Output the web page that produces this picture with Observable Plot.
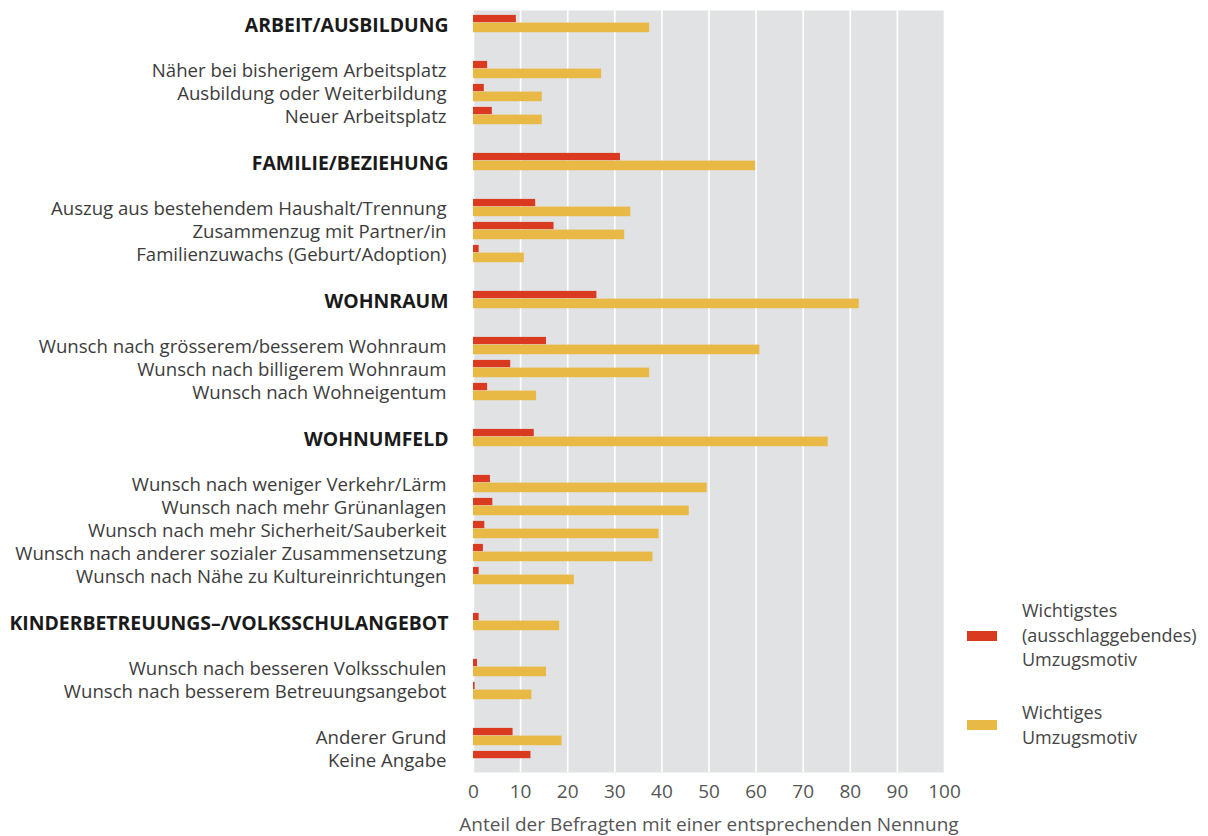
<!DOCTYPE html>
<html>
<head>
<meta charset="utf-8">
<script src="https://cdn.jsdelivr.net/npm/d3@7"></script>
<script src="https://cdn.jsdelivr.net/npm/@observablehq/plot@0.6"></script>
<style>
  body { margin: 0; background: #fff; font-family: "Open Sans", sans-serif; }
  #wrap { position: relative; width: 1208px; height: 836px; }
  .legend { position: absolute; left: 0; top: 0; font-size: 18px; color: #444; line-height: 24.5px; }
  .sw { position: absolute; width: 30px; height: 10px; }
  .lt { position: absolute; left: 1022px; white-space: nowrap; }
</style>
</head>
<body>
<div id="wrap"></div>
<script>
const labels = [
  "ARBEIT/AUSBILDUNG", "",
  "Näher bei bisherigem Arbeitsplatz", "Ausbildung oder Weiterbildung", "Neuer Arbeitsplatz", "",
  "FAMILIE/BEZIEHUNG", "",
  "Auszug aus bestehendem Haushalt/Trennung", "Zusammenzug mit Partner/in", "Familienzuwachs (Geburt/Adoption)", "",
  "WOHNRAUM", "",
  "Wunsch nach grösserem/besserem Wohnraum", "Wunsch nach billigerem Wohnraum", "Wunsch nach Wohneigentum", "",
  "WOHNUMFELD", "",
  "Wunsch nach weniger Verkehr/Lärm", "Wunsch nach mehr Grünanlagen", "Wunsch nach mehr Sicherheit/Sauberkeit",
  "Wunsch nach anderer sozialer Zusammensetzung", "Wunsch nach Nähe zu Kultureinrichtungen", "",
  "KINDERBETREUUNGS–/VOLKSSCHULANGEBOT", "",
  "Wunsch nach besseren Volksschulen", "Wunsch nach besserem Betreuungsangebot", "",
  "Anderer Grund", "Keine Angabe"
];
const isCategory = [
  1,0, 0,0,0,0, 1,0, 0,0,0,0, 1,0, 0,0,0,0, 1,0, 0,0,0,0,0,0, 1,0, 0,0,0, 0,0
];
// Wichtigstes (ausschlaggebendes) Umzugsmotiv
const wichtigstes = [
  9.1, null, 3.0, 2.3, 4.0, null, 31.2, null, 13.2, 17.1, 1.2, null,
  26.2, null, 15.5, 7.9, 3.0, null, 12.9, null, 3.6, 4.1, 2.4, 2.1, 1.2, null,
  1.2, null, 0.85, 0.35, null, 8.4, 12.2
];
// Wichtiges Umzugsmotiv
const wichtiges = [
  37.4, null, 27.2, 14.6, 14.6, null, 59.9, null, 33.4, 32.1, 10.8, null,
  81.9, null, 60.8, 37.4, 13.4, null, 75.3, null, 49.6, 45.8, 39.4, 38.1, 21.4, null,
  18.3, null, 15.5, 12.4, null, 18.8, 0
];
const xTicks = [0, 10, 20, 30, 40, 50, 60, 70, 80, 90, 100];
const xLabel = "Anteil der Befragten mit einer entsprechenden Nennung";
const colRed = "#da3a20";
const colYellow = "#e8b944";

const data = labels.map((label, i) => ({
  i, label, cat: isCategory[i] === 1, red: wichtigstes[i], yellow: wichtiges[i]
}));

const chart = Plot.plot({
  width: 1208,
  height: 836,
  marginTop: 10,
  marginBottom: 64,
  marginLeft: 473,
  marginRight: 264,
  style: { fontFamily: "Open Sans, sans-serif", fontSize: "18.5px", color: "#444", background: "transparent" },
  x: { domain: [0, 100] },
  y: { domain: d3.range(labels.length), padding: 0, axis: null },
  marks: [
    Plot.frame({ fill: "#e1e2e4", stroke: null }),
    Plot.gridX(xTicks, { stroke: "#fff", strokeOpacity: 1, strokeWidth: 1.6 }),
    Plot.barX(data.filter(d => d.red != null && d.red > 0), {
      x: "red", y: "i", fill: colRed, insetTop: 2.9, insetBottom: 12.8
    }),
    Plot.barX(data.filter(d => d.yellow != null && d.yellow > 0), {
      x: "yellow", y: "i", fill: colYellow, insetTop: 10.6, insetBottom: 2.8
    }),
    Plot.text(data.filter(d => d.label && !d.cat), {
      y: "i", text: "label", frameAnchor: "left", textAnchor: "end", dx: -27, dy: 1.5,
      fill: "#3c3c3c", fontSize: 18.6
    }),
    Plot.text(data.filter(d => d.cat), {
      y: "i", text: "label", frameAnchor: "left", textAnchor: "end", dx: -25, dy: 1.5,
      fill: "#1a1a1a", fontSize: 19.4, fontWeight: "bold"
    }),
    Plot.axisX({
      ticks: xTicks, tickSize: 0, tickPadding: 12, fontSize: 19, fill: "#555",
      label: xLabel, labelAnchor: "center", labelArrow: "none", labelOffset: 58
    })
  ]
});

const wrap = document.getElementById("wrap");
wrap.appendChild(chart);

const legend = document.createElement("div");
legend.className = "legend";
legend.innerHTML = `
  <div class="sw" style="left:967px; top:631px; background:${colRed}"></div>
  <div class="lt" style="top:598px">Wichtigstes<br>(ausschlaggebendes)<br>Umzugsmotiv</div>
  <div class="sw" style="left:967px; top:720px; background:${colYellow}"></div>
  <div class="lt" style="top:700px">Wichtiges<br>Umzugsmotiv</div>
`;
wrap.appendChild(legend);
</script>
</body>
</html>
